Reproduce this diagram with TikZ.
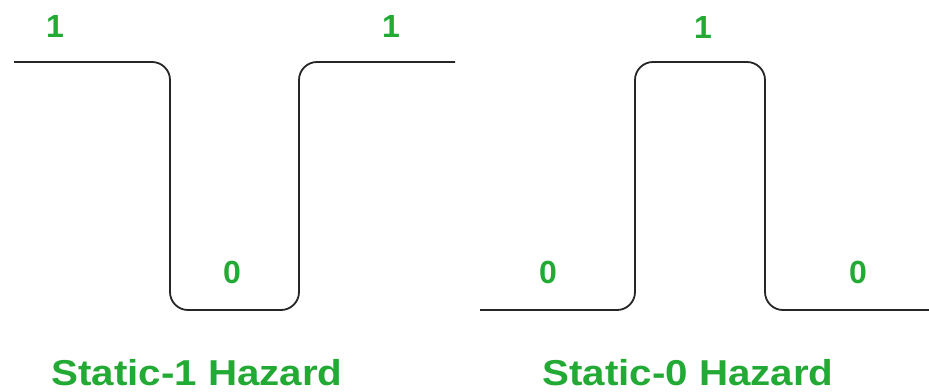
\documentclass[tikz,border=0pt]{standalone}
\usepackage{fontspec}
\setmainfont{Liberation Sans}
\definecolor{hazgreen}{RGB}{34,170,52}
\begin{document}
\begin{tikzpicture}[x=1pt,y=-1pt,
  wave/.style={draw=black!85, line width=1.8pt, rounded corners=18pt},
  level/.style={text=hazgreen, font=\fontsize{32}{32}\selectfont\bfseries, inner sep=0pt},
  caption/.style={text=hazgreen, font=\fontsize{36}{36}\selectfont\bfseries, inner sep=0pt, anchor=base}]
\useasboundingbox (0,0) rectangle (929,391);

% static-1 hazard: output dips to 0 for a moment
\draw[wave] (14,62) -- (170,62) -- (170,310) -- (299,310) -- (299,62) -- (455,62);
% static-0 hazard: output spikes to 1 for a moment
\draw[wave] (480,310) -- (635,310) -- (635,62) -- (765,62) -- (765,310) -- (929,310);

% logic levels
\node[level] (l1a) at (55,26) {1};
\node[level] (l1b) at (391,26) {1};
\node[level] (l1c) at (232,272) {0};
\node[level] (r0a) at (548,272) {0};
\node[level] (r1)  at (703,27) {1};
\node[level] (r0b) at (858,272) {0};

% captions
\node[caption] (capl) at (197,385) {\scalebox{1.12}[1]{Static-1 Hazard}};
\node[caption] (capr) at (688,385) {\scalebox{1.12}[1]{Static-0 Hazard}};
\end{tikzpicture}
\end{document}
